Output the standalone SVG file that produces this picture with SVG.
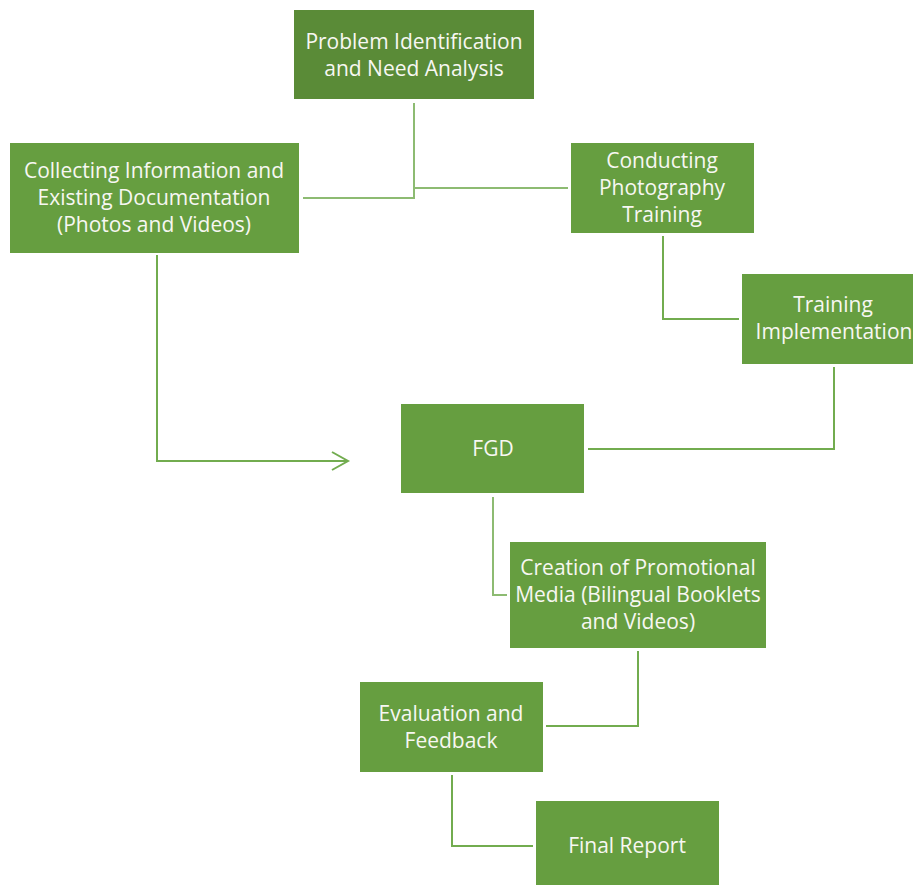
<svg xmlns="http://www.w3.org/2000/svg" width="913" height="885" viewBox="0 0 913 885">
<defs>
<style>
.box{fill:#669e40;}
.box.dark{fill:#5a8b37;}
.t{font-family:"Open Sans","Noto Sans",sans-serif;font-size:21px;fill:#f7f7f2;text-anchor:middle;}
.c{fill:none;stroke:#72ac4f;stroke-width:2;}
.c.light{stroke:#8dbb72;}
</style>
<marker id="arr" markerWidth="20" markerHeight="20" refX="17" refY="10" orient="auto" markerUnits="userSpaceOnUse">
<path d="M1,1 L17,10 L1,19" fill="none" stroke="#72ac4f" stroke-width="2"/>
</marker>
</defs>
<rect width="913" height="885" fill="#ffffff"/>
<g id="connectors">
<path class="c light" d="M414,103 V198 H303"/>
<path class="c light" d="M414,188 H568"/>
<path class="c" d="M157,255 V461 H348" marker-end="url(#arr)"/>
<path class="c" d="M663,236 V319 H739"/>
<path class="c" d="M834,367 V449 H588"/>
<path class="c light" d="M493,497 V595 H507"/>
<path class="c" d="M638,651 V726 H546"/>
<path class="c" d="M452,775 V846 H533"/>
</g>
<g id="problem">
<rect class="box dark" x="294" y="10" width="240" height="89"/>
<text class="t" x="414" y="49">Problem Identification</text>
<text class="t" x="414" y="76">and Need Analysis</text>
</g>
<g id="collecting">
<rect class="box" x="10" y="143" width="289" height="110"/>
<text class="t" x="154" y="178">Collecting Information and</text>
<text class="t" x="154" y="205">Existing Documentation</text>
<text class="t" x="154" y="232">(Photos and Videos)</text>
</g>
<g id="conducting">
<rect class="box" x="571" y="143" width="183" height="90"/>
<text class="t" x="662" y="168">Conducting</text>
<text class="t" x="662" y="195">Photography</text>
<text class="t" x="662" y="222">Training</text>
</g>
<g id="training">
<rect class="box" x="742" y="274" width="180" height="90"/>
<text class="t" x="833" y="312">Training</text>
<text class="t" x="834" y="339">Implementation</text>
</g>
<g id="fgd">
<rect class="box" x="401" y="404" width="183" height="89"/>
<text class="t" x="493" y="456">FGD</text>
</g>
<g id="creation">
<rect class="box" x="510" y="542" width="256" height="106"/>
<text class="t" x="638" y="575">Creation of Promotional</text>
<text class="t" x="638" y="602">Media (Bilingual Booklets</text>
<text class="t" x="638" y="629">and Videos)</text>
</g>
<g id="evaluation">
<rect class="box" x="360" y="682" width="183" height="90"/>
<text class="t" x="451" y="721">Evaluation and</text>
<text class="t" x="451" y="748">Feedback</text>
</g>
<g id="final">
<rect class="box" x="536" y="801" width="183" height="84"/>
<text class="t" x="627" y="853">Final Report</text>
</g>
</svg>
